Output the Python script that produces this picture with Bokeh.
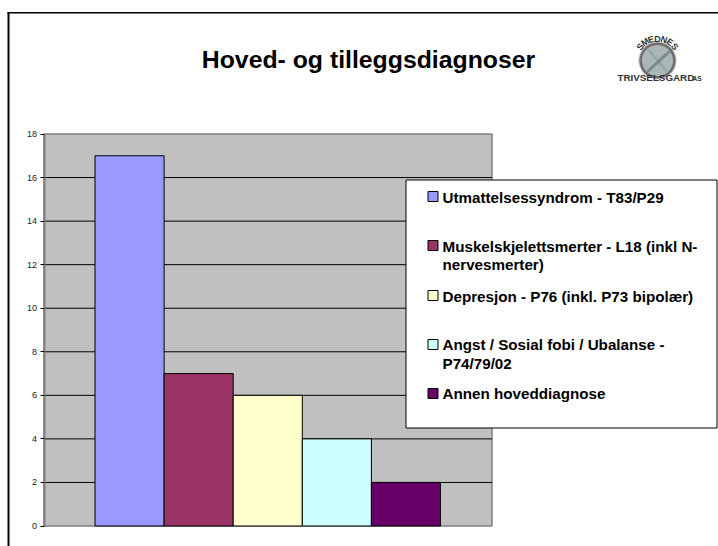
import numpy as np
from bokeh.embed import file_html
from bokeh.resources import INLINE
from bokeh.plotting import figure
from bokeh.models import Range1d, Label, BoxAnnotation, PolyAnnotation, FixedTicker, ColumnDataSource, LinearAxis

title = "Hoved- og tilleggsdiagnoser"
series = ["Utmattelsessyndrom - T83/P29",
          "Muskelskjelettsmerter - L18 (inkl N-\nnervesmerter)",
          "Depresjon - P76 (inkl. P73 bipolær)",
          "Angst / Sosial fobi / Ubalanse -\nP74/79/02",
          "Annen hoveddiagnose"]
values = [17, 7, 6, 4, 2]
colors = ["#9999FF", "#993366", "#FFFFCC", "#CCFFFF", "#660066"]
y_ticks = [0, 2, 4, 6, 8, 10, 12, 14, 16, 18]

W, H = 718, 546
L, R, T, B = 43.5, 491.5, 133.5, 525.5   # plot area in canvas pixels
BAR0, BARW = 94.5, 69.1                  # left edge of first bar, bar width in pixels
FONT = "Liberation Sans"
PXY = (B - T) / 18

p = figure(width=W, height=H, output_backend="svg", toolbar_location=None,
           x_range=Range1d(-0.5 - BAR0 / BARW, -0.5 + (W - BAR0) / BARW),
           y_range=Range1d(-(H - B) / PXY, B / PXY),
           min_border=0, background_fill_color="white", border_fill_color="white",
           outline_line_color=None, x_axis_type=None, y_axis_type=None)
p.grid.visible = False


def box(x0, y0, x1, y1, fill, line="black", lw=1, level="overlay"):
    p.add_layout(BoxAnnotation(left=x0, right=x1, top=y0, bottom=y1,
                               left_units="canvas", right_units="canvas",
                               top_units="canvas", bottom_units="canvas",
                               fill_color=fill, fill_alpha=1, line_color=line, line_width=lw,
                               line_alpha=1, level=level))


def label(x, y, text, size, align="left", bold=True, color="black", angle=0):
    p.add_layout(Label(x=x, y=y, x_units="canvas", y_units="canvas", text=text,
                       text_font=FONT, text_font_size=f"{size}px",
                       text_font_style="bold" if bold else "normal", text_color=color,
                       text_align=align, text_baseline="middle", angle=angle,
                       angle_units="deg", level="overlay"))


# plot background
box(L, T, R, B, "#C0C0C0", "#808080", 1.5, level="image")

# gridlines
x_left = -0.5 - (BAR0 - L) / BARW
x_right = -0.5 + (R - BAR0) / BARW
p.segment(x0=[x_left] * 8, x1=[x_right] * 8, y0=y_ticks[1:-1], y1=y_ticks[1:-1],
          line_color="black", line_width=1, level="underlay")

# bars
src = ColumnDataSource(dict(x=list(range(len(values))), top=values, color=colors))
p.vbar(x="x", top="top", bottom=0, width=1, fill_color="color", line_color="black",
       line_width=1, source=src)

# value axis
ax = LinearAxis(fixed_location=x_left, ticker=FixedTicker(ticks=y_ticks), bounds=(0, 18))
ax.axis_line_color = "#808080"
ax.axis_line_width = 2
ax.major_tick_line_color = "black"
ax.major_tick_out = 4
ax.major_tick_in = 0
ax.minor_tick_line_color = None
ax.major_label_text_font = FONT
ax.major_label_text_font_size = "9px"
ax.major_label_text_color = "#222222"
ax.major_label_standoff = 3
p.add_layout(ax, "left")

# slide frame
box(7, 11.5, 720, 13, "black", None, 0)
box(7, 11.5, 9, 548, "black", None, 0)

label(368, 59, title, 24.8, align="center")

# legend panel
box(405.5, 179.5, 716.5, 427.5, "white")
swatch_y = [196, 245, 295, 344, 393]
text_y = [[197], [246, 264], [296], [344, 363], [393]]
for s, c, sy, ty in zip(series, colors, swatch_y, text_y):
    box(427.5, sy - 5, 437.5, sy + 5, c)
    for part, y in zip(s.split("\n"), ty):
        label(442, y, part, 15.2)

# logo
CX, CY = 657, 60
t = np.linspace(0, 2 * np.pi, 60)
for r, col, alpha in [(19, "#8A8A8A", 0.5), (18, "#6E6E6E", 1), (15.5, "#A9B8B6", 1)]:
    p.add_layout(PolyAnnotation(xs=(CX + r * np.cos(t)).tolist(),
                                ys=(CY + r * np.sin(t)).tolist(),
                                xs_units="canvas", ys_units="canvas",
                                fill_color=col, fill_alpha=alpha, line_color=None,
                                level="overlay"))
for xs, ys, alpha in [([646, 648, 670, 668], [70, 72, 52, 50], 0.7),
                      ([647, 649, 667, 665], [50, 48, 70, 72], 0.25)]:
    p.add_layout(PolyAnnotation(xs=xs, ys=ys, xs_units="canvas", ys_units="canvas",
                                fill_color="#6B7573", fill_alpha=alpha, line_color=None,
                                level="overlay"))
arc = "SMEDNES"
for i, ch in enumerate(arc):
    a = np.deg2rad(90 + 51 - i * 17)
    label(CX + 22 * np.cos(a), CY - 22 * np.sin(a), ch, 9, align="center", color="#333333",
          angle=np.rad2deg(a) - 90)
label(617, 77, "TRIVSELSGARD", 9.8, color="#333333")
label(692, 78, "AS", 6.5, color="#333333")

open("out.html", "w").write(file_html(p, INLINE))
